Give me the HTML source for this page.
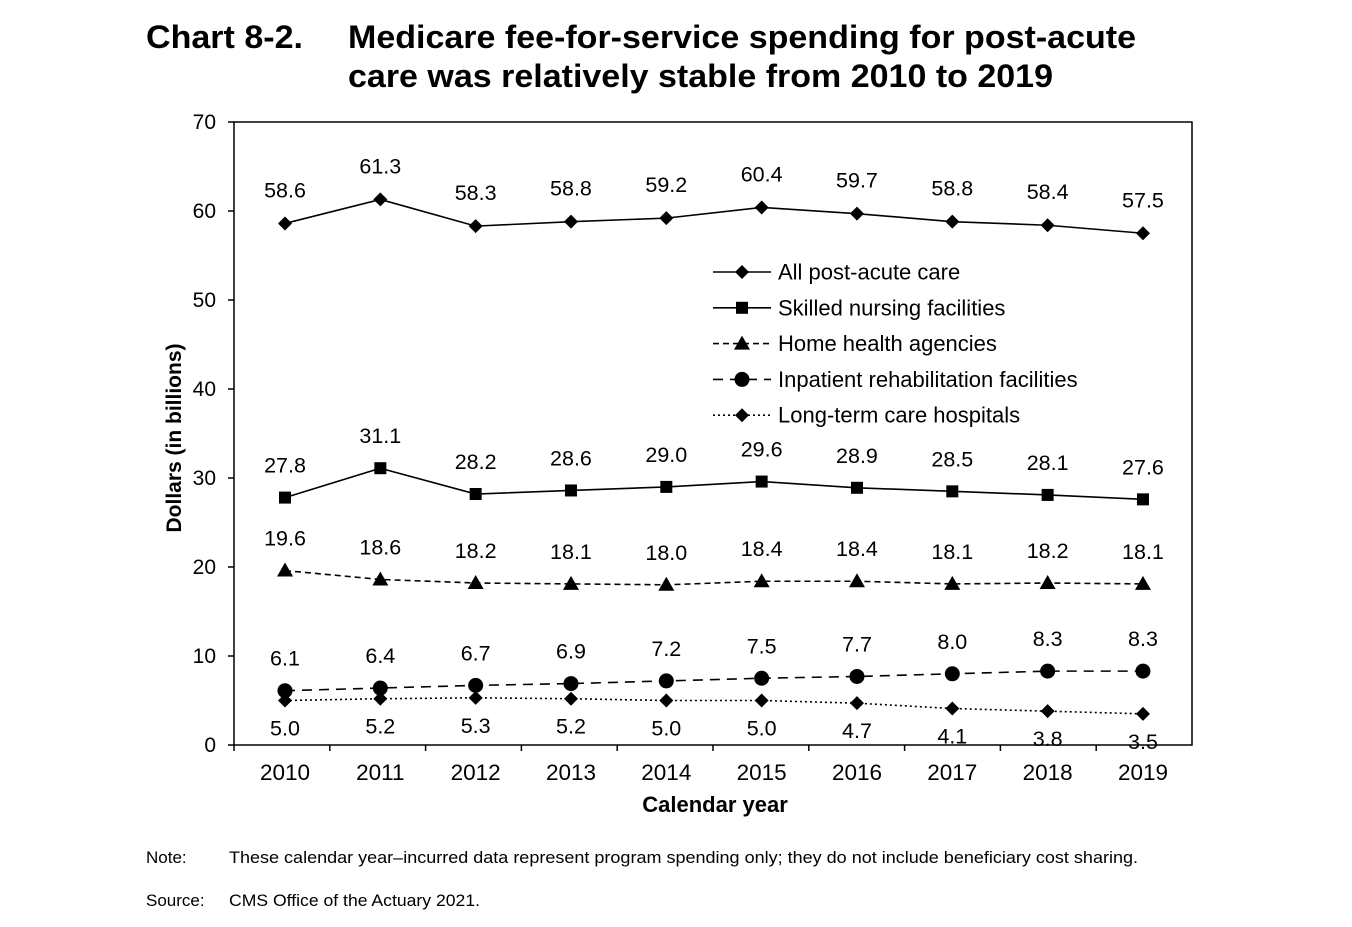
<!DOCTYPE html>
<html><head><meta charset="utf-8"><style>
body{margin:0;background:#fff;width:1352px;height:922px;overflow:hidden;font-family:"Liberation Sans",Arial,sans-serif}
</style></head><body>
<svg id="chart" width="1352" height="922" xmlns="http://www.w3.org/2000/svg" font-family="Liberation Sans, Arial, sans-serif">
<text x="146" y="48" font-size="32" font-weight="bold" textLength="157" lengthAdjust="spacingAndGlyphs">Chart 8-2.</text>
<text x="348" y="48" font-size="32" font-weight="bold" textLength="788" lengthAdjust="spacingAndGlyphs">Medicare fee-for-service spending for post-acute</text>
<text x="348" y="87" font-size="32" font-weight="bold" textLength="705" lengthAdjust="spacingAndGlyphs">care was relatively stable from 2010 to 2019</text>
<rect x="234" y="122" width="958" height="623" fill="none" stroke="#000" stroke-width="1.5"/>
<g id="yaxis"></g><g id="xaxis"></g><g id="series"></g><g id="legend"></g>
<text transform="translate(181,438) rotate(-90)" text-anchor="middle" font-size="21" font-weight="bold">Dollars (in billions)</text>
<text x="715" y="812" text-anchor="middle" font-size="22" font-weight="bold">Calendar year</text>
<text x="146" y="863" font-size="17">Note:</text>
<text x="229" y="863" font-size="17" textLength="909" lengthAdjust="spacingAndGlyphs">These calendar year–incurred data represent program spending only; they do not include beneficiary cost sharing.</text>
<text x="146" y="906" font-size="17">Source:</text>
<text x="229" y="906" font-size="17" textLength="251" lengthAdjust="spacingAndGlyphs">CMS Office of the Actuary 2021.</text>
</svg>
<script>
const years=["2010","2011","2012","2013","2014","2015","2016","2017","2018","2019"];
const yTicks=[0,10,20,30,40,50,60,70];
const allPac=[58.6,61.3,58.3,58.8,59.2,60.4,59.7,58.8,58.4,57.5];
const snf=[27.8,31.1,28.2,28.6,29.0,29.6,28.9,28.5,28.1,27.6];
const hha=[19.6,18.6,18.2,18.1,18.0,18.4,18.4,18.1,18.2,18.1];
const irf=[6.1,6.4,6.7,6.9,7.2,7.5,7.7,8.0,8.3,8.3];
const ltch=[5.0,5.2,5.3,5.2,5.0,5.0,4.7,4.1,3.8,3.5];
const names=["All post-acute care","Skilled nursing facilities","Home health agencies","Inpatient rehabilitation facilities","Long-term care hospitals"];
const NS="http://www.w3.org/2000/svg";
const X=i=>285+i*95.33, Y=v=>745-v*8.9;
function mk(t,a,p){const e=document.createElementNS(NS,t);for(const k in a)e.setAttribute(k,a[k]);p.appendChild(e);return e;}
const ya=document.getElementById('yaxis'),xa=document.getElementById('xaxis'),sg=document.getElementById('series'),lg=document.getElementById('legend');
yTicks.forEach(v=>{mk('line',{x1:228,x2:234,y1:Y(v),y2:Y(v),stroke:'#000','stroke-width':1.5},ya);
const t=mk('text',{x:216,y:Y(v)+7,'text-anchor':'end','font-size':21},ya);t.textContent=v;

});
years.forEach((y,i)=>{const xb=234+i*95.8;mk('line',{x1:xb,x2:xb,y1:745,y2:751,stroke:'#000','stroke-width':1.5},xa);
const t=mk('text',{x:X(i),y:780,'text-anchor':'middle','font-size':22.5},xa);t.textContent=y;

});
function marker(type,x,y,p){
if(type=='diamond')return mk('polygon',{points:`${x},${y-7} ${x+7},${y} ${x},${y+7} ${x-7},${y}`},p);
if(type=='square')return mk('rect',{x:x-6,y:y-6,width:12,height:12},p);
if(type=='tri')return mk('polygon',{points:`${x},${y-8} ${x+8},${y+6} ${x-8},${y+6}`},p);
if(type=='circle')return mk('circle',{cx:x,cy:y,r:7.5},p);}
const defs=[[allPac,'diamond','none',-16,'all-post-acute'],[snf,'square','none',-18,'skilled-nursing'],[hha,'tri','6,4',-18,'home-health'],[irf,'circle','10,7',-18,'inpatient-rehab'],[ltch,'diamond','2,3',36,'long-term-care']];
defs.forEach((d,k)=>{const [vals,m,dash,off,nm]=d;const g=mk('g',{},sg);


mk('polyline',{points:vals.map((v,i)=>X(i)+','+Y(v)).join(' '),fill:'none',stroke:'#000','stroke-width':1.6,'stroke-dasharray':dash},g);
vals.forEach((v,i)=>{const mm=marker(m,X(i),Y(v),g);


const ly=k==4?Y(v)+27+8:Y(v)+off-7+(k==0?-3:0);
const t=mk('text',{x:X(i),y:ly,'text-anchor':'middle','font-size':21.5},g);t.textContent=v.toFixed(1);

});
const ry=272+k*35.8;
mk('line',{x1:713,x2:771,y1:ry,y2:ry,stroke:'#000','stroke-width':1.6,'stroke-dasharray':dash},lg);
marker(m,742,ry,lg);
const lt=mk('text',{x:778,y:ry+7.5,'font-size':22},lg);lt.textContent=names[k];

});
</script>
</body></html>
